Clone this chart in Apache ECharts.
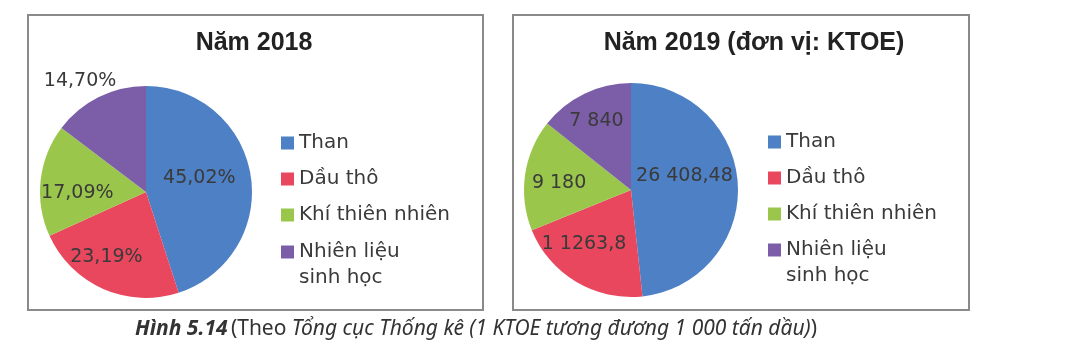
<!DOCTYPE html>
<html><head><meta charset="utf-8">
<script src="https://cdn.jsdelivr.net/npm/echarts@6/dist/echarts.min.js"></script>
<style>html,body{margin:0;padding:0;background:#fff}#c{width:1078px;height:358px}</style>
</head><body><div id="c"></div>
<script>
const categories = ['Than', 'Dầu thô', 'Khí thiên nhiên', 'Nhiên liệu sinh học'];
const share2018 = [45.02, 23.19, 17.09, 14.70];
const value2019 = [26408.48, 11263.8, 9180, 7840];
const labels2019 = ['26 408,48', '1 1263,8', '9 180', '7 840'];
const titles = ['Năm 2018', 'Năm 2019 (đơn vị: KTOE)'];
const captionParts = ['Hình 5.14', '(Theo ', 'Tổng cục Thống kê (1 KTOE tương đương 1 000 tấn dầu)', ')'];

const colors = ['#4d80c5', '#e8475e', '#9ac64c', '#7c5ea8'];
const offsets2018 = [[-2, -5], [-17, 14], [-13, 7], [-41, -61]];
const offsets2019 = [[-3, -11], [-18, 6], [-16, 1], [-10, -18]];
const textColor = '#3a3a3a';

const labelStyle = { show: true, position: 'inside', fontFamily: 'DejaVu Sans', fontSize: 19, color: textColor };

function legendFor(left, top, names, fmt) {
  return {
    orient: 'vertical', left: left, top: top, padding: 0,
    icon: 'rect', itemWidth: 13, itemHeight: 13, itemGap: 10,
    selectedMode: false,
    data: names,
    formatter: fmt || (n => n),
    textStyle: { fontFamily: 'DejaVu Sans', fontSize: 20, lineHeight: 26, color: textColor }
  };
}
// blank first line keeps the marker level with "Nhiên liệu"
const wrapFmt = n => '\n' + n.replace('Nhiên liệu ', 'Nhiên liệu\n');

const chart = echarts.init(document.getElementById('c'), null, { renderer: 'canvas' });
chart.setOption({
  animation: false,
  color: colors,
  title: titles.map((t, i) => ({
    text: t, left: i === 0 ? 254 : 754, top: 31, textAlign: 'center', padding: 0,
    textStyle: { fontFamily: 'Liberation Sans', fontWeight: 'bold', fontSize: 25, lineHeight: 25, color: '#222' }
  })),
  legend: [
    legendFor(281, 130, categories.slice(0, 3)),
    legendFor(281, 213, categories.slice(3), wrapFmt),
    legendFor(768, 129, categories.slice(0, 3)),
    legendFor(768, 211, categories.slice(3), wrapFmt)
  ],
  graphic: [
    { type: 'rect', shape: { x: 28, y: 15, width: 455, height: 295 }, style: { fill: 'none', stroke: '#8a8a8a', lineWidth: 2 }, z: -1 },
    { type: 'rect', shape: { x: 513, y: 15, width: 456, height: 295 }, style: { fill: 'none', stroke: '#8a8a8a', lineWidth: 2 }, z: -1 },
    { type: 'text', left: 135, top: 319,
      style: {
        text: '{b|' + captionParts[0] + '} {n|' + captionParts[1] + '}{i|' + captionParts[2] + '}{n|' + captionParts[3] + '}',
        rich: {
          b: { fontFamily: 'Noto Sans', fontStyle: 'italic', fontWeight: 'bold', fontSize: 21, fill: '#333' },
          n: { fontFamily: 'Noto Sans', fontSize: 21, fill: '#333' },
          i: { fontFamily: 'Noto Sans', fontStyle: 'italic', fontSize: 21, fill: '#333' }
        }
      }
    }
  ],
  series: [
    {
      type: 'pie', center: [146, 192], radius: 106, startAngle: 90, clockwise: true,
      data: categories.map((n, i) => ({ name: n, value: share2018[i] })),
      label: Object.assign({}, labelStyle, { formatter: p => p.value.toFixed(2).replace('.', ',') + '%' }),
      labelLine: { show: false },
      labelLayout: p => ({ dx: offsets2018[p.dataIndex][0], dy: offsets2018[p.dataIndex][1] }),
      itemStyle: { borderWidth: 0 },
      emphasis: { disabled: true }
    },
    {
      type: 'pie', center: [631, 190], radius: 107, startAngle: 90, clockwise: true,
      data: categories.map((n, i) => ({ name: n, value: value2019[i] })),
      label: Object.assign({}, labelStyle, { formatter: p => labels2019[p.dataIndex] }),
      labelLine: { show: false },
      labelLayout: p => ({ dx: offsets2019[p.dataIndex][0], dy: offsets2019[p.dataIndex][1] }),
      itemStyle: { borderWidth: 0 },
      emphasis: { disabled: true }
    }
  ]
});
</script>
</body></html>
